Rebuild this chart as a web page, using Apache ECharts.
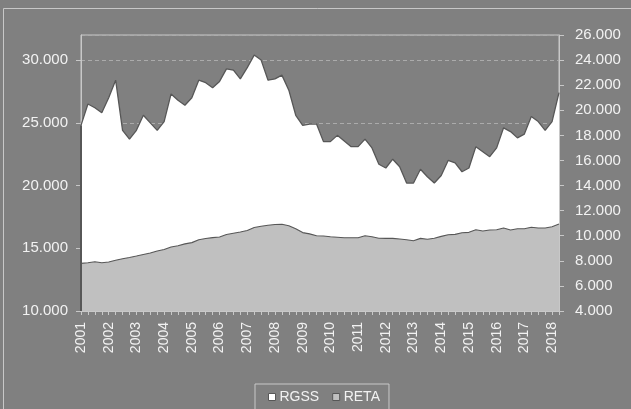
<!DOCTYPE html>
<html>
<head>
<meta charset="utf-8">
<script src="https://cdn.jsdelivr.net/npm/echarts@6/dist/echarts.min.js"></script>
<style>
    html, body { margin: 0; padding: 0; background: #808080; }
    #chart { width: 631px; height: 409px; }
</style>
</head>
<body>
<div id="chart"></div>
<script>
// anni (etichette asse x), una ogni 4 trimestri
var years = [2001, 2002, 2003, 2004, 2005, 2006, 2007, 2008, 2009, 2010, 2011, 2012, 2013, 2014, 2015, 2016, 2017, 2018];

// RGSS - asse sinistro
var rgss = [24800, 26500, 26200, 25800, 27000, 28400, 24400, 23700, 24400, 25600,
            25000, 24400, 25100, 27300, 26800, 26400, 27000, 28400, 28200, 27800,
            28300, 29300, 29200, 28500, 29400, 30400, 30000, 28400, 28500, 28800,
            27600, 25600, 24800, 24900, 24900, 23500, 23500, 24000, 23550, 23100,
            23100, 23700, 23000, 21700, 21400, 22100, 21500, 20200, 20200, 21300,
            20700, 20200, 20800, 22000, 21800, 21100, 21400, 23100, 22700, 22300,
            23000, 24600, 24300, 23800, 24100, 25500, 25100, 24400, 25100, 27400];

// RETA - asse destro
var reta = [7800, 7850, 7930, 7850, 7900, 8050, 8170, 8270, 8380, 8500,
            8620, 8780, 8900, 9100, 9200, 9350, 9450, 9680, 9780, 9850,
            9900, 10100, 10200, 10300, 10420, 10650, 10750, 10830, 10900, 10920,
            10800, 10550, 10250, 10150, 10000, 9980, 9920, 9880, 9840, 9840,
            9840, 10000, 9920, 9800, 9790, 9790, 9740, 9680, 9600, 9790,
            9720, 9800, 9950, 10080, 10110, 10240, 10270, 10480, 10380, 10460,
            10480, 10620, 10460, 10560, 10560, 10670, 10620, 10620, 10720, 10930];

var quarters = [];
years.forEach(function (y) {
    for (var q = 1; q <= 4; q++) {
        if (quarters.length < rgss.length) quarters.push(y + '-T' + q);
    }
});

function fmt(v) {
    return String(v).replace(/\B(?=(\d{3})+(?!\d))/g, '.');
}

var txt = '#f2f2f2';
var axisCol = '#c8c8c8';
var edge = '#575757';

var myChart = echarts.init(document.getElementById('chart'));
var option = {
    backgroundColor: '#808080',
    animation: false,
    textStyle: { fontFamily: 'Liberation Sans, Arial, sans-serif' },
    graphic: [{
        type: 'rect',
        shape: { x: 3.5, y: 8.5, width: 700, height: 500 },
        style: { fill: 'none', stroke: axisCol, lineWidth: 1 },
        silent: true
    }],
    grid: {
        left: 81, right: 72, top: 35, bottom: 98,
        show: true, borderColor: axisCol, borderWidth: 1,
        backgroundColor: 'transparent'
    },
    legend: {
        left: 255, top: 384,
        padding: [6, 9, 14, 13],
        itemGap: 13,
        itemWidth: 7, itemHeight: 7,
        icon: 'rect',
        borderColor: axisCol, borderWidth: 1,
        textStyle: { color: txt, fontSize: 14, fontFamily: 'Liberation Sans, Arial, sans-serif', padding: [0, 0, 0, -1] },
        data: [
            { name: 'RGSS', itemStyle: { color: '#ffffff', borderColor: edge, borderWidth: 1 } },
            { name: 'RETA', itemStyle: { color: '#c0c0c0', borderColor: edge, borderWidth: 1 } }
        ]
    },
    xAxis: {
        type: 'category',
        data: quarters,
        boundaryGap: false,
        axisLine: { lineStyle: { color: axisCol } },
        axisTick: { interval: 0, length: 4, lineStyle: { color: axisCol } },
        axisLabel: {
            interval: 3, rotate: 90, margin: 11,
            color: txt, fontSize: 14,
            formatter: function (v) { return v.split('-')[0]; }
        },
        splitLine: { show: false }
    },
    yAxis: [{
        type: 'value',
        min: 10000, max: 32000, interval: 5000,
        axisLine: { show: true, lineStyle: { color: axisCol } },
        axisTick: { show: true, inside: false, length: 5, lineStyle: { color: axisCol } },
        axisLabel: { color: txt, fontSize: 15, margin: 13, showMaxLabel: false, formatter: fmt },
        splitLine: { show: true, lineStyle: { color: '#ababab', type: [4, 3], width: 1 } }
    }, {
        type: 'value',
        min: 4000, max: 26000, interval: 2000,
        position: 'right',
        axisLine: { show: true, lineStyle: { color: axisCol } },
        axisTick: { show: true, inside: false, length: 5, lineStyle: { color: axisCol } },
        axisLabel: { color: txt, fontSize: 15, margin: 16, formatter: fmt },
        splitLine: { show: false }
    }],
    series: [{
        name: 'RGSS',
        type: 'line',
        yAxisIndex: 0,
        data: rgss,
        symbol: 'none',
        color: '#ffffff',
        lineStyle: { color: edge, width: 1.3 },
        areaStyle: { color: '#ffffff', opacity: 1 },
        markLine: {
            silent: true, symbol: 'none', animation: false,
            label: { show: false },
            lineStyle: { color: edge, width: 2, type: 'solid' },
            data: [
                [{ coord: [0, 10000] }, { coord: [0, rgss[0]] }]
            ]
        }
    }, {
        name: 'RETA',
        type: 'line',
        yAxisIndex: 1,
        data: reta,
        symbol: 'none',
        color: '#c0c0c0',
        lineStyle: { color: edge, width: 1.1 },
        areaStyle: { color: '#c0c0c0', opacity: 1 }
    }]
};
myChart.setOption(option);
</script>
</body>
</html>
